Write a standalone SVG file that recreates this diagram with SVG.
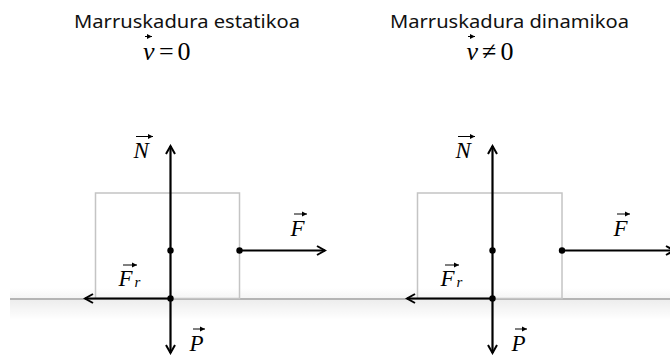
<svg xmlns="http://www.w3.org/2000/svg" width="670" height="358" viewBox="0 0 670 358">
<style>
.title{font-family:"Noto Sans","Liberation Sans",sans-serif;font-size:18px;fill:#111}
.box{fill:none;stroke:#c4c4c4;stroke-width:1.5}
.force{stroke:#000;stroke-width:2.2;fill:none}
.vec{stroke:#000;stroke-width:1;fill:none}
.dot{fill:#000}
</style>
<defs>
<marker id="ah" markerUnits="userSpaceOnUse" markerWidth="12" markerHeight="12" viewBox="0 0 12 12" refX="10" refY="6" orient="auto-start-reverse">
<path d="M2,1.5 L10,6 L2,10.5" fill="none" stroke="#000" stroke-width="2"/>
</marker>
<marker id="vh" markerUnits="userSpaceOnUse" markerWidth="6" markerHeight="6" viewBox="0 0 6 6" refX="5" refY="3" orient="auto">
<path d="M0,0.5 L5,3 L0,5.5 Z" fill="#000"/>
</marker>
<linearGradient id="sh" x1="0" y1="0" x2="0" y2="1">
<stop offset="0" stop-color="#000" stop-opacity="0.07"/>
<stop offset="1" stop-color="#000" stop-opacity="0"/>
</linearGradient>
<linearGradient id="sh2" x1="0" y1="1" x2="0" y2="0">
<stop offset="0" stop-color="#000" stop-opacity="0.04"/>
<stop offset="1" stop-color="#000" stop-opacity="0"/>
</linearGradient>
</defs>

<g id="ground">
<rect x="10" y="300" width="660" height="20" fill="url(#sh)"/>
<rect x="10" y="288" width="660" height="10" fill="url(#sh2)"/>
<line x1="10" y1="299" x2="670" y2="299" stroke="#b4b4b4" stroke-width="2"/>
</g>

<g id="title-left">
<text class="title" x="74" y="28" textLength="226" lengthAdjust="spacingAndGlyphs">Marruskadura estatikoa</text>
<line class="vec" x1="145" y1="36.5" x2="152" y2="36.5" marker-end="url(#vh)"/>
<text x="143" y="59.5" font-family="Liberation Serif" font-size="26" font-style="italic">v</text>
<text x="159" y="59.5" font-family="Liberation Serif" font-size="26">=</text>
<text x="177.5" y="59.5" font-family="Liberation Serif" font-size="26">0</text>
</g>

<g id="title-right">
<text class="title" x="390" y="28" textLength="239" lengthAdjust="spacingAndGlyphs">Marruskadura dinamikoa</text>
<line class="vec" x1="468" y1="36.5" x2="475" y2="36.5" marker-end="url(#vh)"/>
<text x="466.5" y="59.5" font-family="Liberation Serif" font-size="26" font-style="italic">v</text>
<text x="482" y="59.5" font-family="Liberation Serif" font-size="26">≠</text>
<text x="500.5" y="59.5" font-family="Liberation Serif" font-size="26">0</text>
</g>

<g id="block-left">
<rect class="box" x="95.5" y="193" width="144" height="105.5"/>
</g>
<g id="block-right">
<rect class="box" x="417.5" y="193" width="144.5" height="105.5"/>
</g>

<g id="connectors">
<line class="force" x1="170.5" y1="146" x2="170.5" y2="353" marker-start="url(#ah)" marker-end="url(#ah)"/>
<line class="force" x1="239.5" y1="250.5" x2="325" y2="250.5" marker-end="url(#ah)"/>
<line class="force" x1="170.5" y1="298.5" x2="85" y2="298.5" marker-end="url(#ah)"/>
<circle class="dot" cx="170.5" cy="250.5" r="3.2"/>
<circle class="dot" cx="239.5" cy="250.5" r="3.2"/>
<circle class="dot" cx="170.5" cy="298.5" r="3.2"/>

<line class="force" x1="492.5" y1="146" x2="492.5" y2="353" marker-start="url(#ah)" marker-end="url(#ah)"/>
<line class="force" x1="562" y1="250.5" x2="674" y2="250.5" marker-end="url(#ah)"/>
<line class="force" x1="492.5" y1="298.5" x2="407" y2="298.5" marker-end="url(#ah)"/>
<circle class="dot" cx="492.5" cy="250.5" r="3.2"/>
<circle class="dot" cx="562" cy="250.5" r="3.2"/>
<circle class="dot" cx="492.5" cy="298.5" r="3.2"/>
</g>

<g id="labels-left">
<g id="label-N-left">
<line class="vec" x1="136" y1="136.5" x2="153" y2="136.5" marker-end="url(#vh)"/>
<text x="133.5" y="157.5" font-family="Liberation Serif" font-size="23" font-style="italic">N</text>
</g>
<g id="label-F-left">
<line class="vec" x1="294" y1="214" x2="307" y2="214" marker-end="url(#vh)"/>
<text x="290.5" y="235.5" font-family="Liberation Serif" font-size="23" font-style="italic">F</text>
</g>
<g id="label-Fr-left">
<line class="vec" x1="123" y1="265" x2="137" y2="265" marker-end="url(#vh)"/>
<text x="118.5" y="285.5" font-family="Liberation Serif" font-size="23" font-style="italic">F<tspan font-size="15" dx="2" dy="1">r</tspan></text>
</g>
<g id="label-P-left">
<line class="vec" x1="193" y1="329" x2="205" y2="329" marker-end="url(#vh)"/>
<text x="189.5" y="350.5" font-family="Liberation Serif" font-size="23" font-style="italic">P</text>
</g>
</g>

<g id="labels-right">
<g id="label-N-right">
<line class="vec" x1="458" y1="136.5" x2="475" y2="136.5" marker-end="url(#vh)"/>
<text x="455.5" y="157.5" font-family="Liberation Serif" font-size="23" font-style="italic">N</text>
</g>
<g id="label-F-right">
<line class="vec" x1="617" y1="214" x2="630" y2="214" marker-end="url(#vh)"/>
<text x="613.5" y="235.5" font-family="Liberation Serif" font-size="23" font-style="italic">F</text>
</g>
<g id="label-Fr-right">
<line class="vec" x1="445" y1="265" x2="459" y2="265" marker-end="url(#vh)"/>
<text x="440.5" y="285.5" font-family="Liberation Serif" font-size="23" font-style="italic">F<tspan font-size="15" dx="2" dy="1">r</tspan></text>
</g>
<g id="label-P-right">
<line class="vec" x1="515" y1="329" x2="527" y2="329" marker-end="url(#vh)"/>
<text x="511.5" y="350.5" font-family="Liberation Serif" font-size="23" font-style="italic">P</text>
</g>
</g>
</svg>
